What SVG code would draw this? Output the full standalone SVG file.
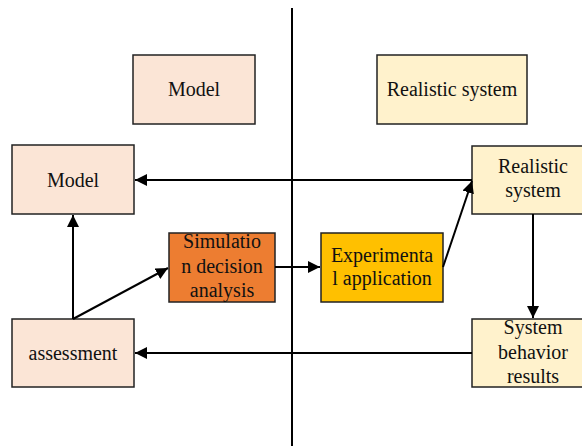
<svg xmlns="http://www.w3.org/2000/svg" width="582" height="446" viewBox="0 0 582 446">
<defs>
<marker id="ah" viewBox="0 0 12 12" refX="12" refY="6" markerWidth="12" markerHeight="12" markerUnits="userSpaceOnUse" orient="auto">
<path d="M0,0 L12,6 L0,12 Z" fill="#000"/>
</marker>
</defs>
<style>
.box{stroke:#222;stroke-width:1.5}
.m{fill:#FBE5D6}
.r{fill:#FFF2CC}
.s{fill:#ED7D31}
.e{fill:#FFC000}
text{font-size:20px;fill:#111;text-anchor:middle}
.c{stroke:#000;stroke-width:2;fill:none}
</style>
<rect width="582" height="446" fill="#fff"/>
<line x1="292" y1="8" x2="292" y2="446" stroke="#000" stroke-width="2"/>
<g font-family="'Liberation Serif', 'Times New Roman', 'DejaVu Serif', serif">
<g id="legend-model"><rect class="box m" x="133" y="55" width="122" height="69"/><text x="194" y="96">Model</text></g>
<g id="legend-real"><rect class="box r" x="377" y="55" width="150" height="69"/><text x="452" y="96">Realistic system</text></g>
<g id="model"><rect class="box m" x="12" y="145" width="122" height="69"/><text x="73" y="187">Model</text></g>
<g id="assessment"><rect class="box m" x="12" y="319" width="122" height="68"/><text x="73" y="360">assessment</text></g>
<g id="sim"><rect class="box s" x="169" y="233" width="106" height="69"/><text x="222" y="248">Simulatio</text><text x="222" y="273">n decision</text><text x="222" y="297">analysis</text></g>
<g id="exp"><rect class="box e" x="321" y="233" width="122" height="69"/><text x="382" y="262">Experimenta</text><text x="382" y="285">l application</text></g>
<g id="realsys"><rect class="box r" x="472" y="146" width="122" height="68"/><text x="533" y="173">Realistic</text><text x="533" y="197">system</text></g>
<g id="results"><rect class="box r" x="472" y="319" width="122" height="68"/><text x="533" y="334">System</text><text x="533" y="359">behavior</text><text x="533" y="383">results</text></g>
</g>
<g id="connectors">
<line class="c" x1="472" y1="180" x2="135" y2="180" marker-end="url(#ah)"/>
<line class="c" x1="73" y1="319" x2="73" y2="215" marker-end="url(#ah)"/>
<line class="c" x1="73" y1="319" x2="168" y2="268" marker-end="url(#ah)"/>
<line class="c" x1="275" y1="267" x2="320" y2="267" marker-end="url(#ah)"/>
<line class="c" x1="443" y1="267" x2="472" y2="181" marker-end="url(#ah)"/>
<line class="c" x1="533" y1="214" x2="533" y2="318" marker-end="url(#ah)"/>
<line class="c" x1="472" y1="353" x2="135" y2="353" marker-end="url(#ah)"/>
</g>
</svg>
